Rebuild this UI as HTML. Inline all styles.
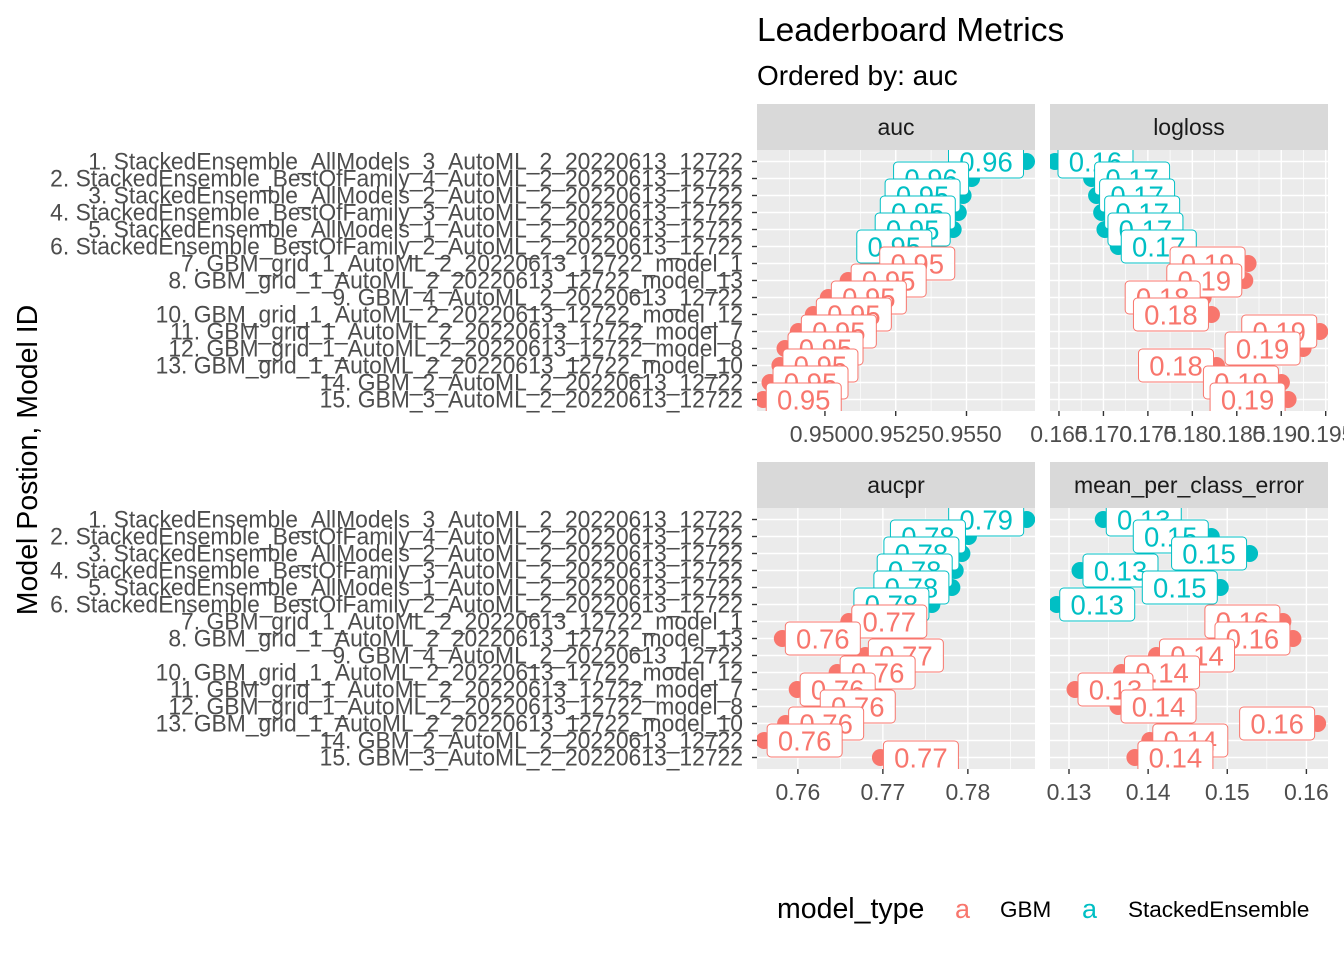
<!DOCTYPE html>
<html><head><meta charset="utf-8"><style>
html,body{margin:0;padding:0;background:#fff;}
svg{display:block;font-family:"Liberation Sans",Arial,sans-serif;}
</style></head><body>
<svg id="chart" width="1344" height="960" viewBox="0 0 1344 960">
<text x="757" y="41" font-size="33.5" fill="#000">Leaderboard Metrics</text>
<text x="757" y="85" font-size="28" fill="#000">Ordered by: auc</text>
<text transform="translate(37,460) rotate(-90)" text-anchor="middle" font-size="28.5" fill="#000">Model Postion, Model ID</text>
<g>
<text x="777" y="918" font-size="28.5" fill="#000">model_type</text>
<text x="955" y="918" font-size="27" fill="#F8766D">a</text>
<text x="1000" y="917" font-size="22.5" fill="#000">GBM</text>
<text x="1082" y="918" font-size="27" fill="#00BFC4">a</text>
<text x="1128" y="917" font-size="22.5" fill="#000">StackedEnsemble</text>
</g>
<g id="panels"></g>
</svg>
<script>
const models = ["1. StackedEnsemble_AllModels_3_AutoML_2_20220613_12722","2. StackedEnsemble_BestOfFamily_4_AutoML_2_20220613_12722","3. StackedEnsemble_AllModels_2_AutoML_2_20220613_12722","4. StackedEnsemble_BestOfFamily_3_AutoML_2_20220613_12722","5. StackedEnsemble_AllModels_1_AutoML_2_20220613_12722","6. StackedEnsemble_BestOfFamily_2_AutoML_2_20220613_12722","7. GBM_grid_1_AutoML_2_20220613_12722_model_1","8. GBM_grid_1_AutoML_2_20220613_12722_model_13","9. GBM_4_AutoML_2_20220613_12722","10. GBM_grid_1_AutoML_2_20220613_12722_model_12","11. GBM_grid_1_AutoML_2_20220613_12722_model_7","12. GBM_grid_1_AutoML_2_20220613_12722_model_8","13. GBM_grid_1_AutoML_2_20220613_12722_model_10","14. GBM_2_AutoML_2_20220613_12722","15. GBM_3_AutoML_2_20220613_12722"];
const modelTypes = ["SE","SE","SE","SE","SE","SE","GBM","GBM","GBM","GBM","GBM","GBM","GBM","GBM","GBM"];
const aucValues = [0.95712,0.95518,0.95488,0.95471,0.95453,0.95388,0.95183,0.95082,0.95012,0.94959,0.94906,0.94859,0.94841,0.94806,0.94782];
const loglossValues = [0.16455,0.16867,0.16923,0.1698,0.17017,0.17167,0.18627,0.1859,0.18122,0.18215,0.19433,0.19246,0.18272,0.19002,0.19077];
const aucprValues = [0.78692,0.78007,0.7793,0.77851,0.77812,0.77577,0.76599,0.75817,0.76794,0.76462,0.75992,0.76228,0.75856,0.75603,0.76971];
const mpceValues = [0.13433,0.14798,0.15282,0.13139,0.14912,0.12845,0.15703,0.1583,0.14106,0.13664,0.13076,0.1362,0.16142,0.14021,0.13833];
const aucTicks = [0.95,0.9525,0.955];
const aucTickLabels = ["0.9500","0.9525","0.9550"];
const loglossTicks = [0.165,0.17,0.175,0.18,0.185,0.19,0.195];
const loglossTickLabels = ["0.165","0.170","0.175","0.180","0.185","0.190","0.195"];
const aucprTicks = [0.76,0.77,0.78];
const aucprTickLabels = ["0.76","0.77","0.78"];
const mpceTicks = [0.13,0.14,0.15,0.16];
const mpceTickLabels = ["0.13","0.14","0.15","0.16"];

const NS="http://www.w3.org/2000/svg";
const colors={GBM:"#F8766D",SE:"#00BFC4"};
const root=document.getElementById('panels');
function mk(tag,attrs,parent){const e=document.createElementNS(NS,tag);for(const k in attrs)e.setAttribute(k,attrs[k]);(parent||root).appendChild(e);return e;}

const panels=[
 {name:"auc",vals:aucValues,ticks:aucTicks,tl:aucTickLabels,x0:757,x1:1035,y0:104,min:0.9476,max:0.95742},
 {name:"logloss",vals:loglossValues,ticks:loglossTicks,tl:loglossTickLabels,x0:1050,x1:1328,y0:104,min:0.16399,max:0.19526},
 {name:"aucpr",vals:aucprValues,ticks:aucprTicks,tl:aucprTickLabels,x0:757,x1:1035,y0:462,min:0.75519,max:0.7879},
 {name:"mean_per_class_error",vals:mpceValues,ticks:mpceTicks,tl:mpceTickLabels,x0:1050,x1:1328,y0:462,min:0.1276,max:0.16273}
];
const stripH=46, plotH=261;
panels.forEach((p,pi)=>{
 const py0=p.y0+stripH, py1=py0+plotH;
 const xs=v=>p.x0+(v-p.min)/(p.max-p.min)*(p.x1-p.x0);
 const ys=i=>py0+11.5+i*((plotH-23)/14);
 const g=mk('g',{},root);
 
 
 const strip=mk('rect',{x:p.x0,y:p.y0,width:p.x1-p.x0,height:stripH,fill:'#d9d9d9'},g);
 
 
 const st=mk('text',{x:(p.x0+p.x1)/2,y:p.y0+stripH/2+8,'text-anchor':'middle','font-size':23,fill:'#1a1a1a'},g);
 st.textContent=p.name;
 
 
 const bg=mk('rect',{x:p.x0,y:py0,width:p.x1-p.x0,height:plotH,fill:'#ebebeb'},g);
 
 
 const step=p.ticks[1]-p.ticks[0];
 for(let k=-2;k<=p.ticks.length+1;k++){
  const tv=p.ticks[0]+k*step, mv=tv+step/2;
  [[tv,1.4],[mv,0.7]].forEach(([v,w])=>{const x=xs(v); if(x>p.x0&&x<p.x1){mk('line',{x1:x,x2:x,y1:py0,y2:py1,stroke:'#fff','stroke-width':w},g);}});
 }
 for(let i=0;i<15;i++){mk('line',{x1:p.x0,x2:p.x1,y1:ys(i),y2:ys(i),stroke:'#fff','stroke-width':1.4},g);}
 p.ticks.forEach((t,k)=>{
  const x=xs(t);
  mk('line',{x1:x,x2:x,y1:py1,y2:py1+5,stroke:'#333','stroke-width':1.4},g);
  const tx=mk('text',{x:x,y:py1+31,'text-anchor':'middle','font-size':23,fill:'#4d4d4d'},g);
  tx.textContent=p.tl[k];
  
  
 });
 if(pi%2===0){
  for(let i=0;i<15;i++){
   mk('line',{x1:p.x0-5,x2:p.x0,y1:ys(i),y2:ys(i),stroke:'#333','stroke-width':1.4},g);
   const t=mk('text',{x:0,y:0,'text-anchor':'end','font-size':24,fill:'#4d4d4d'},g);
   t.textContent=models[i];
   
   
   t.setAttribute('data-row',i);
   t.setAttribute('data-ty',ys(i)+8);
  }
 }
 const cid='clip'+pi;
 const cp=mk('clipPath',{id:cid},g);
 mk('rect',{x:p.x0,y:py0,width:p.x1-p.x0,height:plotH},cp);
 const marks=mk('g',{'clip-path':'url(#'+cid+')'},g);
 const mid=(p.x0+p.x1)/2;
 p.vals.forEach((v,i)=>{
  const c=mk('circle',{cx:xs(v),cy:ys(i),r:8.5,fill:colors[modelTypes[i]]},marks);
  
  
 });
 p.vals.forEach((v,i)=>{
  const x=xs(v), y=ys(i), w=75, h=33;
  const bx = x>mid ? x-w-3 : x+3;
  const lg=mk('g',{},marks);
  
  
  mk('rect',{x:bx,y:y-h/2,width:w,height:h,rx:4,fill:'#fff',stroke:colors[modelTypes[i]],'stroke-width':1},lg);
  const t=mk('text',{x:bx+w/2,y:y+10,'text-anchor':'middle','font-size':27.5,fill:colors[modelTypes[i]]},lg);
  t.textContent=v.toFixed(2);
 });
});
const ref=document.querySelector('text[data-row="1"]');
const nat=ref.getComputedTextLength();
const sx=693/nat;
document.querySelectorAll('text[data-row]').forEach(t=>{
 const ty=t.getAttribute('data-ty');
 t.setAttribute('transform','translate(743,'+ty+') scale('+sx+',1)');
});
</script>
</body></html>
